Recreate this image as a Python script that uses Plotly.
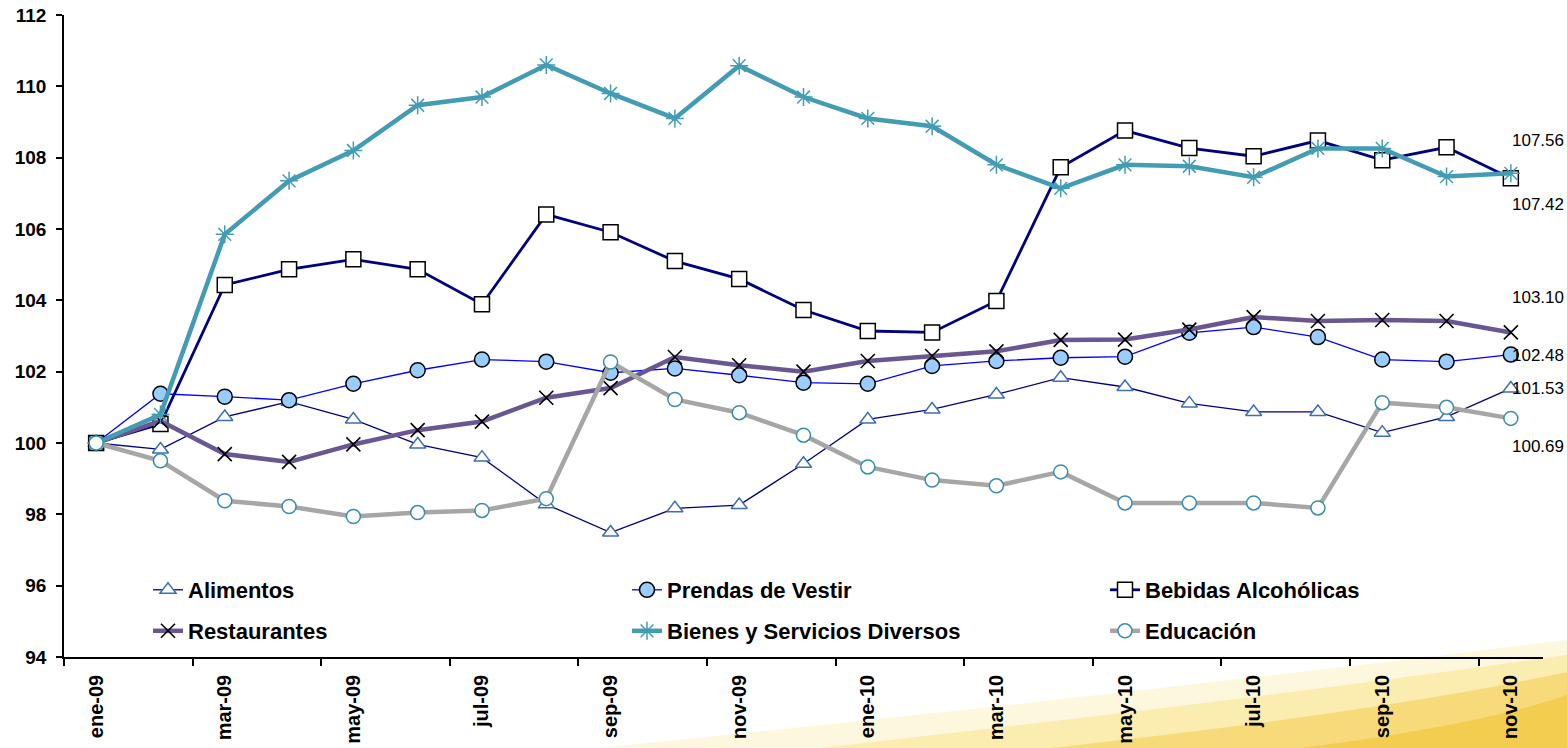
import plotly.graph_objects as go

# months ene-09 .. nov-10
months = ["ene-09", "feb-09", "mar-09", "abr-09", "may-09", "jun-09", "jul-09", "ago-09",
          "sep-09", "oct-09", "nov-09", "dic-09", "ene-10", "feb-10", "mar-10", "abr-10",
          "may-10", "jun-10", "jul-10", "ago-10", "sep-10", "oct-10", "nov-10"]

alimentos = [100.00, 99.82, 100.73, 101.16, 100.66, 99.96, 99.59, 98.28, 97.49, 98.17, 98.26, 99.42,
             100.66, 100.94, 101.36, 101.83, 101.57, 101.11, 100.87, 100.87, 100.29, 100.73, 101.53]
prendas = [100.00, 101.38, 101.30, 101.20, 101.66, 102.04, 102.34, 102.28, 101.97, 102.09, 101.90, 101.69,
           101.66, 102.16, 102.30, 102.39, 102.42, 103.09, 103.25, 102.97, 102.34, 102.28, 102.48]
bebidas = [100.00, 100.53, 104.43, 104.87, 105.15, 104.87, 103.89, 106.41, 105.91, 105.10, 104.60, 103.73,
           103.14, 103.10, 103.98, 107.73, 108.76, 108.27, 108.04, 108.48, 107.93, 108.29, 107.42]
restaurantes = [100.00, 100.62, 99.69, 99.47, 99.96, 100.36, 100.60, 101.27, 101.54, 102.41, 102.18, 102.00,
                102.30, 102.44, 102.57, 102.89, 102.90, 103.18, 103.53, 103.42, 103.45, 103.42, 103.10]
bienes = [100.00, 100.80, 105.85, 107.35, 108.20, 109.47, 109.70, 110.60, 109.80, 109.10, 110.58, 109.70,
          109.10, 108.88, 107.80, 107.14, 107.80, 107.76, 107.45, 108.26, 108.26, 107.47, 107.56]
educacion = [100.00, 99.50, 98.38, 98.22, 97.94, 98.05, 98.11, 98.44, 102.27, 101.22, 100.85, 100.22,
             99.33, 98.96, 98.80, 99.19, 98.32, 98.32, 98.32, 98.18, 101.13, 101.00, 100.69]

y_ticks = [94, 96, 98, 100, 102, 104, 106, 108, 110, 112]

FONT = "Arial, Liberation Sans, sans-serif"
W, H = 1567, 748
ML, MR, MT, MB = 64, 24, 15, 91
PW, PH = W - ML - MR, H - MT - MB

x = list(range(len(months)))

series = [
    dict(name="Alimentos", y=alimentos, line=dict(color="#000080", width=1.3),
         marker=dict(symbol="triangle-up", size=14, color="white",
                     line=dict(color="#3f6fae", width=1.5))),
    dict(name="Prendas de Vestir", y=prendas, line=dict(color="#0000ff", width=1.3),
         marker=dict(symbol="circle", size=15, color="#99ccff",
                     line=dict(color="black", width=1.5))),
    dict(name="Bebidas Alcohólicas", y=bebidas, line=dict(color="#000080", width=2.8),
         marker=dict(symbol="square", size=15, color="white",
                     line=dict(color="black", width=1.5))),
    dict(name="Restaurantes", y=restaurantes, line=dict(color="#6a5690", width=4.5),
         marker=dict(symbol="x-thin-open", size=14, color="black",
                     line=dict(color="black", width=1.6))),
    dict(name="Bienes y Servicios Diversos", y=bienes, line=dict(color="#439cb3", width=4.5),
         marker=dict(symbol="asterisk-open", size=15, color="#439cb3",
                     line=dict(color="#439cb3", width=1.5))),
    dict(name="Educación", y=educacion, line=dict(color="#a6a6a6", width=4.5),
         marker=dict(symbol="circle", size=14, color="white",
                     line=dict(color="#3a8ea8", width=1.5))),
]

# legend text start (px) and row centre (px), 3 columns x 2 rows
leg_cols = [188, 667, 1145]
leg_rows = [590, 631]

fig = go.Figure()
legends = {}
for i, s in enumerate(series):
    key = "legend" if i == 0 else f"legend{i + 1}"
    fig.add_trace(go.Scatter(x=x, y=s["y"], name=s["name"], mode="lines+markers",
                             line=s["line"], marker=s["marker"], legend=key,
                             cliponaxis=False))
    legends[key] = dict(
        x=(leg_cols[i % 3] - 40 - ML) / PW, y=(H - MB - leg_rows[i // 3]) / PH,
        xanchor="left", yanchor="middle", bgcolor="rgba(0,0,0,0)",
        font=dict(family=FONT, size=22, color="black", weight="bold"))

# end-value labels
label_shift = {"Bienes y Servicios Diversos": 33, "Bebidas Alcohólicas": -26, "Restaurantes": 35,
               "Prendas de Vestir": -1, "Alimentos": 0, "Educación": -28}
for s in series:
    fig.add_annotation(x=x[-1], y=s["y"][-1], text=f"{s['y'][-1]:.2f}", showarrow=False,
                       xshift=27, yshift=label_shift[s["name"]],
                       font=dict(family=FONT, size=17, color="black"))


def px(xp, yp):
    return (xp - ML) / PW, (H - MB - yp) / PH


def swoosh(pts):
    (a, b), (c, d), (e, f) = [px(*p) for p in pts]
    xr, yb = px(W, H)
    return f"M {a},{b} Q {c},{d} {e},{f} L {xr},{yb} Z"


# decorative yellow swoosh in the lower right corner
for pts, col in [(((600, 748), (1150, 692), (1567, 640)), "rgba(250,232,160,0.35)"),
                 (((820, 748), (1250, 700), (1567, 655)), "rgba(248,222,120,0.45)"),
                 (((1050, 748), (1380, 712), (1567, 672)), "rgba(244,206,80,0.55)"),
                 (((1300, 748), (1480, 725), (1567, 695)), "rgba(240,195,50,0.6)")]:
    fig.add_shape(type="path", xref="paper", yref="paper", path=swoosh(pts),
                  fillcolor=col, line=dict(width=0), layer="below")

fig.update_layout(
    width=W, height=H,
    margin=dict(l=ML, r=MR, t=MT, b=MB),
    paper_bgcolor="white", plot_bgcolor="rgba(0,0,0,0)",
    font=dict(family=FONT, color="black"),
    showlegend=True,
    **legends,
    xaxis=dict(range=[-0.5, len(months) - 0.5], tickmode="array", tickvals=x[::2],
               ticktext=months[::2], tickangle=-90, ticks="", showgrid=False, zeroline=False,
               showline=True, linecolor="black", linewidth=1.5, ticklabelstandoff=8,
               automargin=False,
               tickfont=dict(family=FONT, size=20, color="black", weight="bold"),
               minor=dict(tickmode="array", tickvals=[i - 0.5 for i in x[::2]], ticks="outside",
                          ticklen=7, tickwidth=1.5, tickcolor="black", showgrid=False)),
    yaxis=dict(range=[y_ticks[0], y_ticks[-1]], tickmode="array", tickvals=y_ticks,
               ticks="outside", ticklen=6, tickwidth=1.5, tickcolor="black", ticklabelstandoff=6,
               showgrid=False, zeroline=False, showline=True, linecolor="black", linewidth=1.5,
               automargin=False,
               tickfont=dict(family=FONT, size=19, color="black", weight="bold")),
)

# page has a default 8px body margin; drop it so the figure sits at the window origin
fig.write_html("out.html", config={"displayModeBar": False},
               post_script="document.body.style.margin='0px';")
